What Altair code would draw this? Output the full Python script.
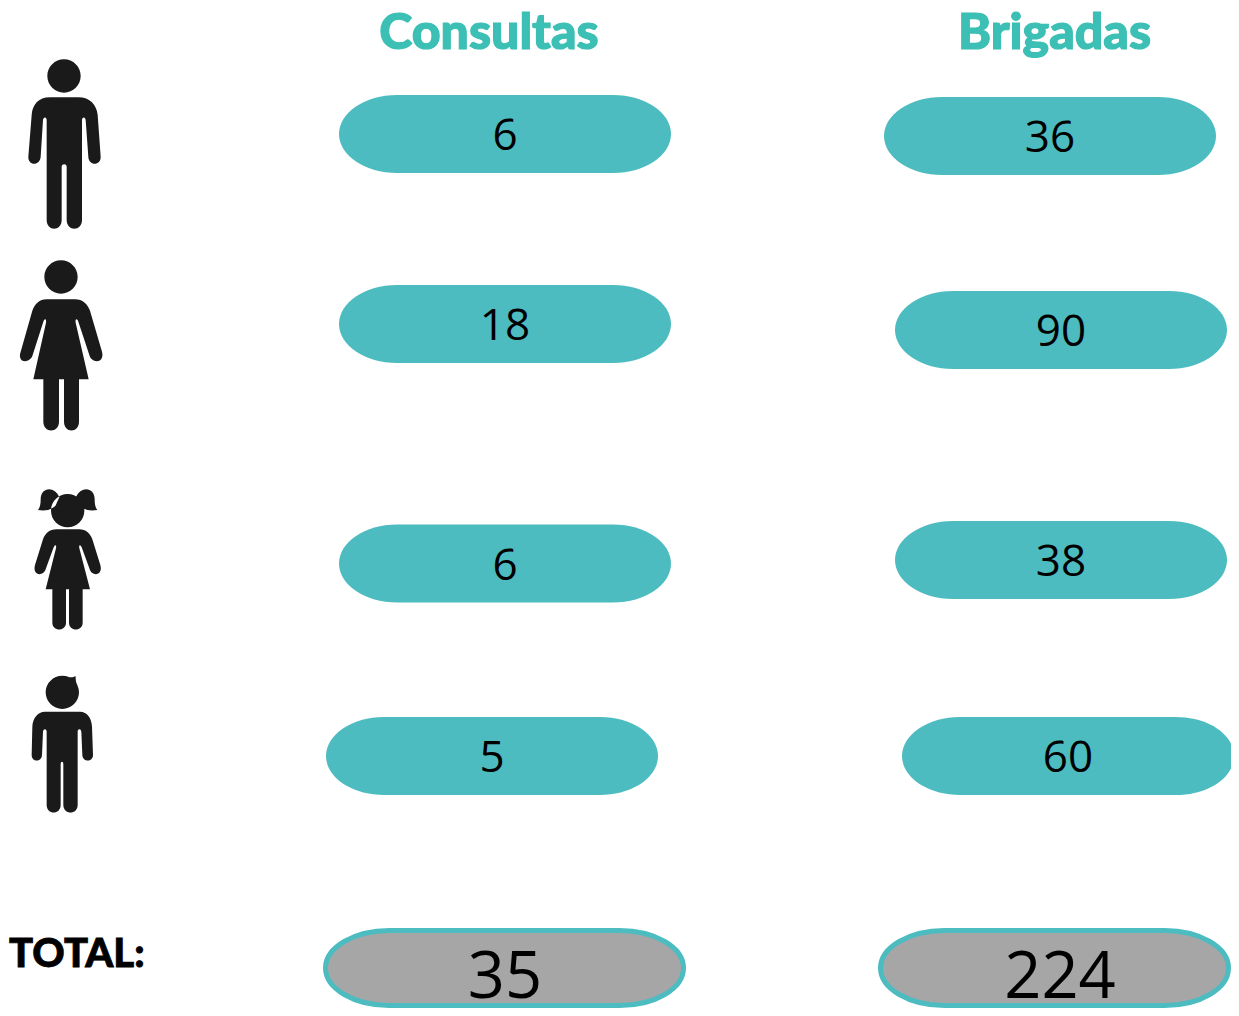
import re
import altair as alt
import pandas as pd

# ---- values ----
categories = ["Hombres", "Mujeres", "Niñas", "Niños"]
consultas = [6, 18, 6, 5]
brigadas = [36, 90, 38, 60]
total_consultas = [35]
total_brigadas = [224]
headers = ["Consultas", "Brigadas"]
total_label = ["TOTAL:"]

# ---- layout (reference pixels) ----
cons_x = [505, 505, 505, 492]
cons_y = [134, 324, 563.5, 756]
brig_x = [1050, 1061, 1061, 1068]
brig_y = [136, 330, 560, 756]
total_x = [504.5, 1054.5]
total_y = [968, 968]
total_text_x = [505, 1060]
total_text_y = [977.5, 977.5]
header_x = [489, 1054.5]
header_y = [34, 34]

TEAL = "#4CBCC0"
GREY = "#A6A6A6"
HEAD = "#3CBFB4"
INK = "#1A1A1A"
FONT = "Open Sans"
HFONT = "Lato"

W, H = 1231, 1008
XS = alt.Scale(domain=[8, W], range=[0, W - 8], zero=False, nice=False)
YS = alt.Scale(domain=[8, H], range=[0, H - 8], zero=False, nice=False)


def fmt(v):
    return f"{v:.4f}".rstrip("0").rstrip(".")


def pill(w, h, rx):
    """Rounded pill with elliptical ends, centred, in units of w/2."""
    u = w / 2
    a, b = (w / 2) / u, (h / 2) / u
    r, k = rx / u, 0.5523
    c = a - r
    return (
        f"M{fmt(-c)},{fmt(-b)}L{fmt(c)},{fmt(-b)}"
        f"C{fmt(c + k * r)},{fmt(-b)} {fmt(a)},{fmt(-b * k)} {fmt(a)},0"
        f"C{fmt(a)},{fmt(b * k)} {fmt(c + k * r)},{fmt(b)} {fmt(c)},{fmt(b)}"
        f"L{fmt(-c)},{fmt(b)}"
        f"C{fmt(-c - k * r)},{fmt(b)} {fmt(-a)},{fmt(b * k)} {fmt(-a)},0"
        f"C{fmt(-a)},{fmt(-b * k)} {fmt(-c - k * r)},{fmt(-b)} {fmt(-c)},{fmt(-b)}Z"
    )


def circle(cx, cy, r):
    k = 0.5523 * r
    return (
        f"M{cx - r} {cy}C{cx - r} {cy - k} {cx - k} {cy - r} {cx} {cy - r}"
        f"C{cx + k} {cy - r} {cx + r} {cy - k} {cx + r} {cy}"
        f"C{cx + r} {cy + k} {cx + k} {cy + r} {cx} {cy + r}"
        f"C{cx - k} {cy + r} {cx - r} {cy + k} {cx - r} {cy}Z"
    )


def norm(path, ox, oy):
    """Path drawn on a 3x grid -> units of 100 px around its anchor."""
    out = []

    for seg in re.findall(r"[MLCZ][^MLCZ]*", path):
        i = 0

        def repl(m):
            nonlocal i
            v = (float(m.group()) - (ox if i % 2 == 0 else oy)) / 300
            i += 1
            return fmt(v)

        out.append(re.sub(r"-?\d+\.?\d*", repl, seg))
    return "".join(out)


MAN = circle(192, 108, 50) + (
    "M150 172L235 172C270 172 290 195 293 225L302 350C303 378 266 378 265 350L257 240"
    "C256 230 246 230 246 240L246 540C246 575 200 575 200 540L200 380C200 370 185 370 185 380"
    "L185 540C185 575 140 575 140 540L140 240C140 230 130 230 129 240L122 350C120 378 84 378 85 350"
    "L95 225C97 195 115 172 150 172Z"
)
WOMAN = circle(183, 111, 50) + (
    "M140 178L225 178C248 178 262 192 270 212L306 335C315 370 275 372 268 345L235 245"
    "C231 234 225 236 227 248L266 418L237 418L237 545C237 580 192 580 192 545L192 418L177 418"
    "L177 545C177 580 130 580 130 545L130 418L100 418L138 248C140 236 134 234 130 245L98 345"
    "C90 372 50 370 62 335L97 212C105 192 118 178 140 178Z"
)
GIRL = circle(203, 122, 50) + (
    "M178 82C165 48 122 50 122 88C122 103 120 113 114 120C135 124 152 120 166 108Z"
    "M228 82C241 48 284 50 284 88C284 103 286 113 292 120C271 124 254 120 240 108Z"
    "M170 178L237 178C258 178 270 190 277 208L301 285C310 318 275 322 268 295L245 232"
    "C241 222 236 224 238 235L270 358L248 358L248 458C248 485 207 485 207 458L207 358L198 358"
    "L198 458C198 485 157 485 157 458L157 358L137 358L168 235C170 224 165 222 161 232L138 295"
    "C131 322 96 318 105 285L129 208C136 190 148 178 170 178Z"
)
BOY = circle(187, 97, 50) + (
    "M200 50C212 53 222 52 226 47C228 55 226 65 232 75Z"
    "M135 155L240 155C262 155 275 175 276 200L279 285C279 307 248 307 247 285L244 215"
    "C243 205 233 205 233 215L233 435C233 465 190 465 190 435L190 312C190 303 182 303 182 312"
    "L182 435C182 465 140 465 140 435L140 215C140 205 130 205 129 215L126 285C125 307 95 307 95 285"
    "L97 200C98 175 113 155 135 155Z"
)
ICONS = [
    norm(MAN, 192, 310),
    norm(WOMAN, 130, 320),
    norm(GIRL, 203, 265),
    norm(BOY, 187, 248),
]
# anchors: crop origin + anchor/3
icon_x = [64, 130 / 3, 203 / 3, 187 / 3]
icon_y = [40 + 310 / 3, 240 + 320 / 3, 470 + 265 / 3, 660 + 248 / 3]

PILL_W, PILL_H = 332, 78
TOT_W = [358, 348]
TOT_H = 75

rows = pd.DataFrame(
    {
        "categoria": categories * 2,
        "valor": consultas + brigadas,
        "x": cons_x + brig_x,
        "y": cons_y + brig_y,
    }
)
rows["txt"] = rows["valor"].astype(str)
totals = pd.DataFrame(
    {
        "valor": total_consultas + total_brigadas,
        "x": total_text_x,
        "y": total_text_y,
    }
)
totals["txt"] = totals["valor"].astype(str)
heads = pd.DataFrame({"txt": headers, "x": header_x, "y": header_y})
label = pd.DataFrame({"txt": total_label, "x": [9], "y": [955]})

X = alt.X("x:Q", scale=XS, axis=None)
Y = alt.Y("y:Q", scale=YS, axis=None)

layers = [
    alt.Chart(rows)
    .mark_point(
        shape=pill(PILL_W, PILL_H, 58), filled=True, fill=TEAL, opacity=1, strokeWidth=0, size=PILL_W**2
    )
    .encode(x=X, y=Y),
]
for tx, ty, tw, tv in zip(total_x, total_y, TOT_W, total_consultas + total_brigadas):
    layers.append(
        alt.Chart(pd.DataFrame({"valor": [tv], "x": [tx], "y": [ty]}))
        .mark_point(
            shape=pill(tw, TOT_H, 64), filled=True, fill=GREY, stroke=TEAL, strokeWidth=5, opacity=1, size=tw**2
        )
        .encode(x=X, y=Y)
    )
layers += [
    alt.Chart(rows)
    .mark_text(font=FONT, fontSize=44, color="#000000", align="center", baseline="middle", dy=3)
    .encode(x=X, y=Y, text="txt:N"),
    alt.Chart(totals)
    .mark_text(font=FONT, fontSize=65, color="#000000", align="center", baseline="middle")
    .encode(x=X, y=Y, text="txt:N"),
    alt.Chart(heads)
    .mark_text(
        font=HFONT, fontSize=50, fontWeight=900, color=HEAD, stroke=HEAD, strokeWidth=1.2,
        align="center", baseline="middle",
    )
    .encode(x=X, y=Y, text="txt:N"),
    alt.Chart(label)
    .mark_text(
        font=HFONT, fontSize=40, fontWeight=900, color="#000000", stroke="#000000", strokeWidth=0.8,
        align="left", baseline="middle",
    )
    .encode(x=X, y=Y, text="txt:N"),
]
for shape, ix, iy, cat in zip(ICONS, icon_x, icon_y, categories):
    df = pd.DataFrame({"categoria": [cat], "x": [ix], "y": [iy]})
    layers.append(
        alt.Chart(df)
        .mark_point(shape=shape, filled=True, fill=INK, opacity=1, strokeWidth=0, size=40000)
        .encode(x=X, y=Y)
    )

chart = (
    alt.layer(*layers)
    .properties(
        width=W - 8,
        height=H - 8,
        padding=0,
        autosize=alt.AutoSizeParams(type="none"),
        background="white",
    )
    .configure_view(stroke=None)
)
chart.save("out.html", embed_options={"renderer": "svg", "actions": False})
